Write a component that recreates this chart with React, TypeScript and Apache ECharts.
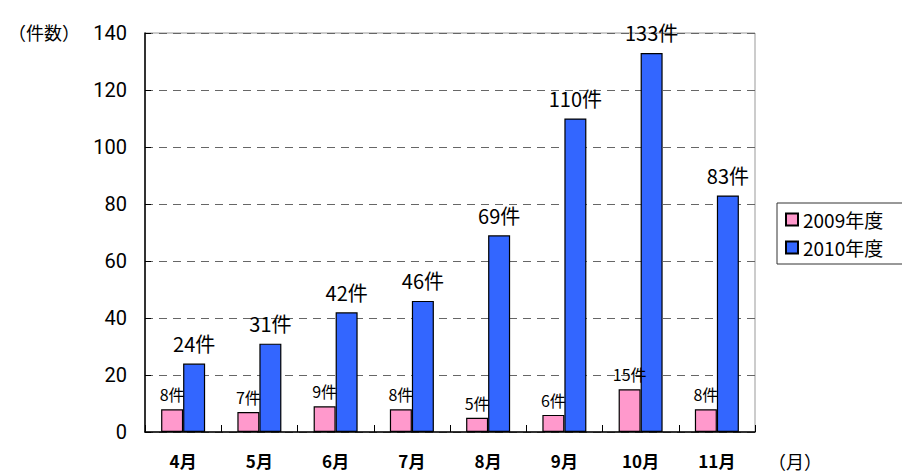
import React, { useEffect, useRef } from "react";
import * as echarts from "echarts";

const months = ["4月", "5月", "6月", "7月", "8月", "9月", "10月", "11月"];
const fy2009 = [8, 7, 9, 8, 5, 6, 15, 8];
const fy2010 = [24, 31, 42, 46, 69, 110, 133, 83];
const seriesNames = ["2009年度", "2010年度"];
const yTicks = { min: 0, max: 140, interval: 20 };

const FONT = "'Noto Sans CJK JP', 'Noto Sans', sans-serif";

export default function App() {
  const ref = useRef<HTMLDivElement>(null);
  useEffect(() => {
    if (!ref.current) return;
    const chart = echarts.init(ref.current, null, { renderer: "svg" });
    chart.setOption({
      animation: false,
      backgroundColor: "#ffffff",
      textStyle: { fontFamily: FONT },
      grid: { left: 145, right: 147, top: 33, bottom: 41, show: true, borderColor: "#999", borderWidth: 1 },
      legend: {
        orient: "vertical",
        left: 777,
        top: 203,
        itemWidth: 12,
        itemHeight: 12,
        itemGap: 9,
        padding: [7, 20, 7, 8],
        borderColor: "#333",
        borderWidth: 1,
        textStyle: { fontSize: 19, color: "#000", fontFamily: FONT },
        data: seriesNames.map((n) => ({ name: n, icon: "rect" })),
      },
      xAxis: {
        type: "category",
        data: months,
        axisLine: { lineStyle: { color: "#000", width: 1.5 } },
        axisTick: { show: true, inside: true, length: 7, lineStyle: { color: "#000" } },
        axisLabel: { fontSize: 17, fontWeight: "bold", color: "#000", margin: 19, lineHeight: 18, fontFamily: FONT },
      },
      yAxis: {
        type: "value",
        min: yTicks.min,
        max: yTicks.max,
        interval: yTicks.interval,
        axisLine: { show: true, lineStyle: { color: "#000", width: 1.5 } },
        axisTick: { show: true, inside: true, length: 6, lineStyle: { color: "#000" } },
        axisLabel: { fontSize: 20, color: "#000", margin: 18, fontFamily: "Roboto, 'Noto Sans', sans-serif" },
        splitLine: { show: true, lineStyle: { color: "#666", type: [8, 6], width: 1 } },
      },
      series: [
        {
          name: seriesNames[0],
          type: "bar",
          data: fy2009,
          barWidth: 22,
          barGap: "0%",
          itemStyle: { color: "#ff99cc", borderColor: "#000", borderWidth: 1.2 },
          label: { show: true, position: "top", distance: 7, formatter: "{c}件", fontSize: 16, color: "#000", fontFamily: FONT },
        },
        {
          name: seriesNames[1],
          type: "bar",
          data: fy2010,
          barWidth: 22,
          barGap: "0%",
          itemStyle: { color: "#3366ff", borderColor: "#000", borderWidth: 1.2 },
          label: { show: true, position: "top", distance: 10, formatter: "{c}件", fontSize: 20, color: "#000", fontFamily: FONT },
        },
      ],
      graphic: [
        { type: "text", left: 8, top: 23, style: { text: "（件数）", fontSize: 18, fill: "#000", fontFamily: FONT } },
        { type: "text", left: 768, top: 452, style: { text: "（月）", fontSize: 18, fill: "#000", fontFamily: FONT } },
      ],
    });
    return () => chart.dispose();
  }, []);
  return <div ref={ref} style={{ width: 902, height: 473, position: "absolute", left: 0, top: 0 }} />;
}
